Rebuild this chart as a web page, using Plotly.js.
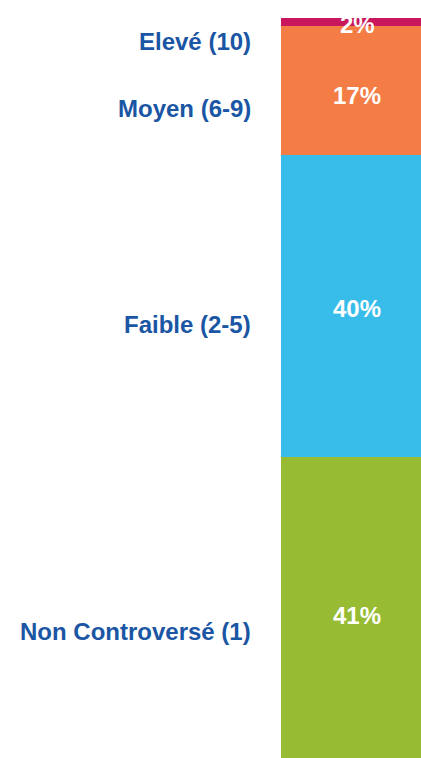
<!DOCTYPE html>
<html>
<head>
<meta charset="utf-8">
<script src="https://cdn.plot.ly/plotly-3.0.1.min.js"></script>
<style>html,body{margin:0;padding:0;background:#fff;}#chart{width:421px;height:758px;}</style>
</head>
<body>
<div id="chart"></div>
<script>
// Data (bottom to top)
const categories = ["Non Controversé (1)", "Faible (2-5)", "Moyen (6-9)", "Elevé (10)"];
const values = [41, 40, 17, 2];
const pctLabels = ["41%", "40%", "17%", "2%"];
const colors = ["#97bb33", "#38bdea", "#f47d45", "#c8175d"];

// style offsets (pixels)
const labelShift = [-19, -19, -18, -23];
const pctShift = [-3, -3, -5, -6];

const traces = categories.map((c, i) => ({
  type: "bar",
  x: [0],
  y: [values[i]],
  width: [1],
  name: c,
  marker: {color: colors[i], line: {width: 0}},
  hoverinfo: "none",
  showlegend: false
}));

const annotations = [];
let cum = 0;
categories.forEach((c, i) => {
  const mid = cum + values[i] / 2;
  cum += values[i];
  annotations.push({
    xref: "paper", yref: "y",
    x: -0.2, y: mid,
    xanchor: "right", yanchor: "middle",
    yshift: labelShift[i],
    text: "<b>" + c + "</b>",
    showarrow: false,
    font: {family: "Liberation Sans, Arial, sans-serif", size: 24, color: "#1a56a4"}
  });
  annotations.push({
    xref: "x", yref: "y",
    x: 0, y: mid,
    xanchor: "center", yanchor: "middle",
    yshift: pctShift[i],
    text: "<b>" + pctLabels[i] + "</b>",
    showarrow: false,
    font: {family: "Liberation Sans, Arial, sans-serif", size: 24, color: "#ffffff"}
  });
});

const layout = {
  width: 421, height: 758,
  margin: {l: 281, r: 0, t: 18, b: 0, pad: 0},
  paper_bgcolor: "#ffffff",
  plot_bgcolor: "#ffffff",
  barmode: "stack",
  bargap: 0,
  xaxis: {range: [-0.5, 0.421], visible: false, fixedrange: true},
  yaxis: {range: [1.2, 99.1], visible: false, fixedrange: true},
  annotations: annotations,
  showlegend: false
};

Plotly.newPlot("chart", traces, layout, {displayModeBar: false, staticPlot: true});
</script>
</body>
</html>
